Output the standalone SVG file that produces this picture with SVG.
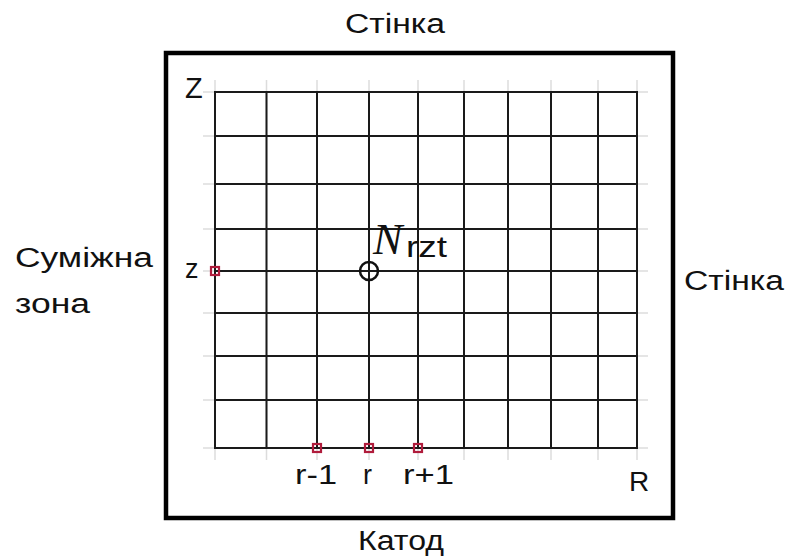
<svg xmlns="http://www.w3.org/2000/svg" width="787" height="559" viewBox="0 0 787 559">
<style>
.lbl{font-family:"Liberation Sans","Open Sans",sans-serif;fill:#111}
.grid line{stroke:#1a1a1a;stroke-width:2}
.ticks line{stroke:#dcdcdc;stroke-width:1.5}
.pt{fill:none;stroke:#b01c3c;stroke-width:2.2}
</style>
<rect width="787" height="559" fill="#fff"/>
<g id="frame"><rect x="166" y="53" width="507" height="465" fill="none" stroke="#000" stroke-width="4.5"/></g>
<g id="ticks" class="ticks">
<line x1="215" y1="80" x2="215" y2="460"/><line x1="266.5" y1="80" x2="266.5" y2="460"/><line x1="317" y1="80" x2="317" y2="460"/><line x1="369" y1="80" x2="369" y2="460"/><line x1="418" y1="80" x2="418" y2="460"/><line x1="464" y1="80" x2="464" y2="460"/><line x1="508" y1="80" x2="508" y2="460"/><line x1="551" y1="80" x2="551" y2="460"/><line x1="598" y1="80" x2="598" y2="460"/><line x1="637" y1="80" x2="637" y2="460"/>
<line x1="203" y1="92" x2="648" y2="92"/><line x1="203" y1="136" x2="648" y2="136"/><line x1="203" y1="184" x2="648" y2="184"/><line x1="203" y1="229" x2="648" y2="229"/><line x1="203" y1="271" x2="648" y2="271"/><line x1="203" y1="313" x2="648" y2="313"/><line x1="203" y1="356" x2="648" y2="356"/><line x1="203" y1="400" x2="648" y2="400"/><line x1="203" y1="448" x2="648" y2="448"/>
</g>
<g id="grid" class="grid">
<line x1="215" y1="92" x2="215" y2="448" stroke-width="2.5"/><line x1="266.5" y1="92" x2="266.5" y2="448"/><line x1="317" y1="92" x2="317" y2="448"/><line x1="369" y1="92" x2="369" y2="448"/><line x1="418" y1="92" x2="418" y2="448"/><line x1="464" y1="92" x2="464" y2="448"/><line x1="508" y1="92" x2="508" y2="448"/><line x1="551" y1="92" x2="551" y2="448"/><line x1="598" y1="92" x2="598" y2="448"/><line x1="637" y1="92" x2="637" y2="448"/>
<line x1="214" y1="92" x2="638" y2="92"/><line x1="214" y1="136" x2="638" y2="136"/><line x1="214" y1="184" x2="638" y2="184"/><line x1="214" y1="229" x2="638" y2="229"/><line x1="214" y1="271" x2="638" y2="271"/><line x1="214" y1="313" x2="638" y2="313"/><line x1="214" y1="356" x2="638" y2="356"/><line x1="214" y1="400" x2="638" y2="400"/><line x1="214" y1="448" x2="638" y2="448"/>
</g>
<g id="points">
<rect class="pt" x="211" y="267" width="8" height="8"/>
<rect class="pt" x="313" y="444" width="8" height="8"/>
<rect class="pt" x="365" y="444" width="8" height="8"/>
<rect class="pt" x="414" y="444" width="8" height="8"/>
<circle cx="369" cy="271" r="9" fill="none" stroke="#111" stroke-width="2.5"/>
</g>
<g id="labels">
<text class="lbl" x="345" y="33" font-size="27" textLength="100" lengthAdjust="spacingAndGlyphs">Стінка</text>
<text class="lbl" x="684" y="290" font-size="27" textLength="100" lengthAdjust="spacingAndGlyphs">Стінка</text>
<text class="lbl" x="15" y="267" font-size="27" textLength="138" lengthAdjust="spacingAndGlyphs">Суміжна</text>
<text class="lbl" x="15" y="313" font-size="27" textLength="75" lengthAdjust="spacingAndGlyphs">зона</text>
<text class="lbl" x="358" y="550" font-size="27" textLength="86" lengthAdjust="spacingAndGlyphs">Катод</text>
<text class="lbl" x="185" y="98" font-size="29">Z</text>
<text class="lbl" x="185" y="278" font-size="27">z</text>
<text class="lbl" x="295" y="484" font-size="27" textLength="42" lengthAdjust="spacingAndGlyphs">r-1</text>
<text class="lbl" x="363" y="484" font-size="27">r</text>
<text class="lbl" x="403" y="484" font-size="27" textLength="51" lengthAdjust="spacingAndGlyphs">r+1</text>
<text class="lbl" x="629" y="491" font-size="28">R</text>
<text x="373" y="254" font-family="Liberation Serif,serif" font-style="italic" font-size="44" fill="#111">N</text>
<text class="lbl" x="406" y="257" font-size="29" textLength="41" lengthAdjust="spacingAndGlyphs">rzt</text>
</g>
</svg>
